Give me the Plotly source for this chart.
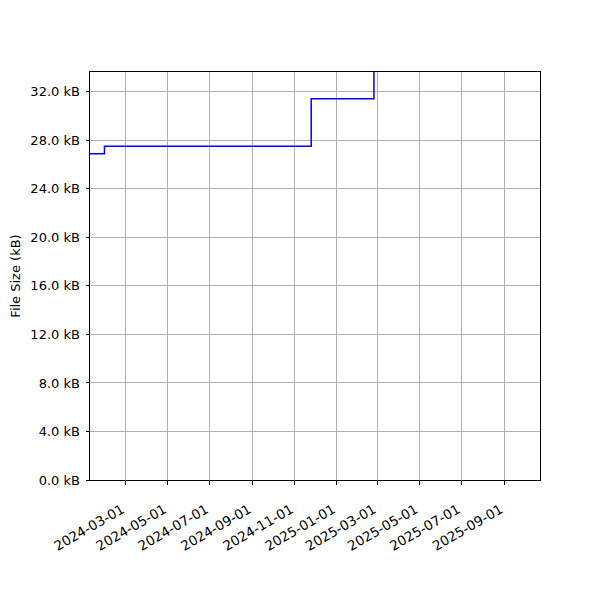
import plotly.graph_objects as go

dates = ["2024-01-01", "2024-01-30", "2024-11-25", "2025-02-24", "2025-10-31"]
sizes_kb = [26.9, 27.5, 31.43, 40.0, 40.0]

tick_dates = ["2024-03-01", "2024-05-01", "2024-07-01", "2024-09-01", "2024-11-01",
              "2025-01-01", "2025-03-01", "2025-05-01", "2025-07-01", "2025-09-01"]
y_ticks = [0, 4, 8, 12, 16, 20, 24, 28, 32]
y_labels = [f"{v:.1f} kB" for v in y_ticks]

fig = go.Figure()
fig.add_trace(go.Scatter(x=dates, y=sizes_kb, mode="lines", line_shape="hv",
                         line=dict(color="blue", width=1.5), showlegend=False))

yfont = dict(family="DejaVu Sans", size=13, color="black")
xfont = dict(family="DejaVu Sans", size=13.5, color="black")
fig.update_layout(
    width=600, height=600,
    margin=dict(l=82, r=68, t=64, b=128),
    plot_bgcolor="white", paper_bgcolor="white",
    font=yfont,
    xaxis=dict(range=["2024-01-09", "2025-10-23"], tickvals=tick_dates,
               ticktext=[t + "\u00a0" for t in tick_dates],
               tickangle=-30, showgrid=True, gridcolor="#b0b0b0", gridwidth=0.8,
               showline=True, linecolor="black", linewidth=1, mirror=True,
               ticks="outside", ticklen=3.5, tickcolor="black", zeroline=False,
               tickfont=xfont, automargin=False, ticklabelstandoff=10),
    yaxis=dict(range=[0, 33.63], tickvals=y_ticks, ticktext=y_labels,
               showgrid=True, gridcolor="#b0b0b0", gridwidth=0.8,
               showline=True, linecolor="black", linewidth=1, mirror=True,
               ticks="outside", ticklen=3.5, tickcolor="black", zeroline=False,
               title=dict(text="File Size (kB)", font=yfont, standoff=10),
               tickfont=yfont, automargin=False, ticklabelstandoff=3),
)
fig.write_html("out.html")
